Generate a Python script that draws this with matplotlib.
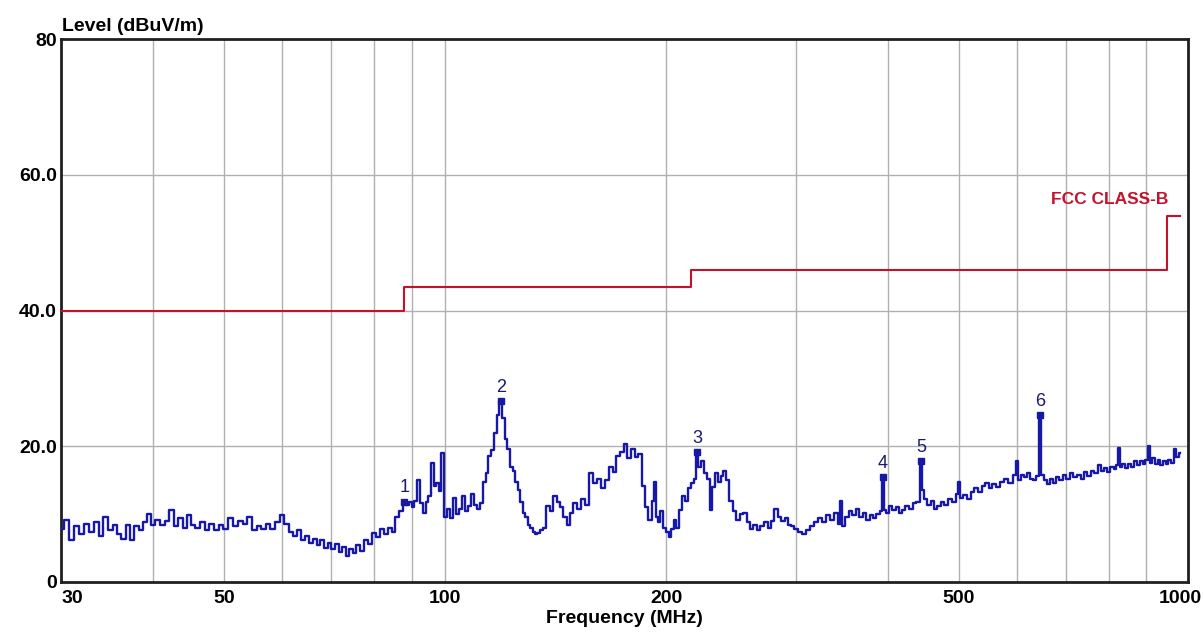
import numpy as np
import matplotlib
matplotlib.use('Agg')
import matplotlib.pyplot as plt
from matplotlib.ticker import FixedLocator, NullFormatter

plt.rcParams['font.family'] = ['Liberation Sans', 'DejaVu Sans']

freq_mhz = [
    30, 30.5, 31, 31.5, 32, 32.5, 33, 33.5, 34, 34.5,
    35, 35.5, 36, 36.5, 37, 37.5, 38, 38.5, 39, 39.5,
    40, 40.6, 41.2, 41.8, 42.4, 43, 43.6, 44.2, 44.8, 45.4,
    46, 46.7, 47.4, 48.1, 48.8, 49.5, 50.2, 51, 51.8, 52.6,
    53.4, 54.2, 55, 55.8, 56.6, 57.4, 58.2, 59, 60,
    60.8, 61.6, 62.4, 63.2, 64, 64.8, 65.6, 66.4, 67.2, 68,
    68.8, 69.6, 70.4, 71.2, 72, 72.8, 73.6, 74.4, 75.2, 76,
    77, 78, 79, 80, 81, 82, 83, 84, 85, 86, 87, 88,
    88.8, 89.6, 90.4, 91.2, 92, 92.8, 93.6, 94.4, 95.2, 96,
    96.8, 97.6, 98.4, 99.2, 100, 101, 102, 103, 104, 105,
    106, 107, 108, 109, 110, 111, 112, 113, 114, 115,
    116, 117, 118, 119, 120, 121, 122, 123, 124, 125,
    126, 127, 128, 129, 130, 131, 132, 133, 134, 135,
    136.5, 138, 139.5, 141, 142.5, 144, 145.5, 147, 148.5, 150,
    152, 154, 156, 158, 160, 162, 164, 166, 168, 170,
    172, 174, 176, 178, 180, 182, 184, 186, 188, 190,
    192, 193, 194, 195, 197, 199, 201, 202, 204, 205.5,
    207, 209, 211, 213, 215, 217, 219, 220,
    222, 224, 226, 228, 230, 232, 234, 236, 238, 240,
    242, 245, 248, 250, 253, 256, 258, 261, 264, 267,
    270, 273, 276, 279, 282, 285, 288, 291, 294, 297,
    300, 304, 308, 312, 316, 320, 324, 328, 332, 336,
    340, 344, 346, 348, 352, 356, 360, 364, 368, 372,
    376, 380, 384, 388, 392, 394, 396, 400, 404, 408,
    412, 416, 420, 425, 430, 435, 440, 444, 447, 450,
    455, 460, 465, 470, 475, 480, 486, 492, 498, 500,
    504, 510, 516, 522, 528, 534, 540, 546, 552, 558,
    565, 572, 580, 588, 596, 600, 604, 610, 616, 622,
    628, 634, 640, 645, 650, 656, 662, 668, 674, 680,
    688, 696, 704, 712, 720, 728, 736, 744, 752, 760,
    768, 776, 784, 792, 800, 808, 816, 822, 826, 830,
    838, 846, 854, 862, 870, 878, 886, 894, 900, 906,
    912, 920, 928, 936, 944, 952, 960, 968, 976, 984,
    990, 1000,
]
level_dbuv = [
    7.8, 9.2, 6.2, 8.2, 7.0, 8.6, 7.4, 8.8, 6.8, 9.6,
    7.6, 8.4, 7.0, 6.4, 8.4, 6.2, 8.2, 7.6, 8.8, 10.0,
    8.4, 9.2, 8.4, 9.0, 10.6, 8.2, 9.4, 8.0, 9.8, 8.4,
    8.0, 8.8, 7.6, 8.6, 7.6, 8.4, 7.8, 9.4, 8.2, 9.0,
    8.6, 9.6, 7.6, 8.2, 7.8, 8.6, 7.8, 8.8, 9.8,
    8.6, 7.4, 6.8, 7.6, 6.2, 6.8, 5.8, 6.4, 5.4, 6.2,
    5.0, 5.8, 4.8, 5.6, 4.4, 5.2, 3.8, 4.8, 4.2, 5.4,
    4.6, 6.2, 5.6, 7.2, 6.6, 7.8, 7.0, 8.0, 7.4, 9.6, 10.4, 11.8,
    11.4, 11.8, 11.0, 12.0, 15.0, 11.6, 10.2, 11.8, 12.6, 17.6,
    14.2, 14.6, 13.4, 19.0, 9.6, 10.8, 9.4, 12.4, 10.0, 10.8,
    12.6, 10.4, 11.2, 13.0, 11.4, 10.8, 11.6, 14.8, 16.0, 18.6,
    19.4, 22.0, 24.6, 26.6, 24.2, 21.0, 19.6, 17.0, 16.4, 14.8,
    13.6, 11.8, 10.2, 9.6, 8.4, 8.0, 7.4, 7.0, 7.2, 7.6,
    8.0, 11.2, 10.4, 12.6, 11.8, 11.0, 9.6, 8.4, 10.2, 11.6,
    10.8, 12.2, 11.4, 16.0, 14.6, 15.2, 13.8, 15.0, 17.0, 16.2,
    18.6, 19.2, 20.4, 18.2, 19.6, 18.4, 18.8, 14.2, 11.0, 9.2,
    12.0, 14.8, 9.6, 8.8, 10.4, 8.0, 7.4, 6.6, 7.8, 9.2,
    8.0, 10.6, 12.6, 12.0, 13.8, 14.6, 15.2, 19.1,
    17.0, 17.8, 16.0, 15.2, 10.6, 14.0, 16.0, 14.8, 15.6, 16.4,
    15.0, 12.0, 10.4, 9.2, 10.0, 10.2, 8.8, 7.8, 8.4, 7.6,
    8.2, 8.8, 8.0, 9.0, 10.8, 9.6, 9.0, 9.4, 8.4, 8.2,
    7.8, 7.4, 7.0, 7.6, 8.2, 8.8, 9.4, 8.8, 9.8, 9.2,
    10.2, 8.6, 12.0, 8.2, 9.6, 10.4, 9.8, 10.8, 9.6, 10.2,
    9.2, 9.8, 9.4, 10.0, 10.4, 15.4, 10.6, 10.2, 11.2, 10.6,
    11.0, 10.2, 10.6, 11.2, 10.8, 11.6, 11.8, 17.8, 13.6, 12.2,
    11.4, 12.0, 10.8, 11.2, 11.8, 11.4, 12.2, 11.8, 13.0, 14.8,
    12.4, 12.8, 12.2, 13.2, 13.8, 13.2, 14.2, 14.6, 13.8, 14.4,
    14.0, 14.8, 15.2, 14.6, 15.8, 17.8, 15.0, 15.8, 15.4, 16.0,
    15.2, 15.0, 15.6, 24.6, 15.8, 15.0, 14.4, 15.2, 14.6, 15.4,
    15.0, 15.8, 15.2, 16.0, 15.4, 15.8, 15.2, 16.2, 15.6, 16.4,
    16.0, 17.2, 16.4, 16.8, 16.2, 17.0, 16.6, 17.2, 19.8, 17.0,
    17.4, 16.8, 17.4, 17.0, 17.8, 17.2, 17.8, 17.4, 18.0, 20.0,
    17.6, 18.2, 17.4, 18.0, 17.2, 17.8, 17.4, 18.0, 17.6, 19.6,
    18.4, 19.0,
]

# FCC class B limit (3 m)
limit_freq = [30, 88, 88, 216, 216, 960, 960, 1000]
limit_level = [40, 40, 43.5, 43.5, 46, 46, 54, 54]

# marked peaks
peak_freq = [88, 119, 220, 394, 444, 645]
peak_level = [11.8, 26.6, 19.1, 15.4, 17.8, 24.6]
peak_labels = ['1', '2', '3', '4', '5', '6']

trace_color = '#1818a8'
limit_color = '#c4122c'

fig = plt.figure(figsize=(12.04, 6.42), dpi=100)
ax = fig.add_axes([0.0507, 0.0935, 0.9360, 0.8455])

ax.set_xscale('log')
ax.set_xlim(30, 1025)
ax.set_ylim(0, 80)

ax.plot(limit_freq, limit_level, color=limit_color, lw=1.5, zorder=3)
ax.plot(freq_mhz, level_dbuv, color=trace_color, lw=1.7, drawstyle='steps-mid', zorder=4)

ax.plot(peak_freq, peak_level, 's', color=trace_color, ms=4, zorder=5)
for f, l, t in zip(peak_freq, peak_level, peak_labels):
    ax.annotate(t, (f, l), xytext=(0, 4), textcoords='offset points',
                ha='center', va='bottom', fontsize=13, color='#1a1a70', zorder=6)

ax.text(965, 56.3, 'FCC CLASS-B', color=limit_color, fontsize=12.5,
        fontweight='bold', ha='right', va='center')

# grid
grid_x = [40, 50, 60, 70, 80, 90, 100, 200, 300, 400, 500, 600, 700, 800, 900]
ax.xaxis.set_major_locator(FixedLocator([30, 50, 100, 200, 500, 1000]))
ax.xaxis.set_minor_locator(FixedLocator(grid_x))
ax.xaxis.set_minor_formatter(NullFormatter())
ax.set_xticklabels(['30', '50', '100', '200', '500', '1000'])
ax.set_yticks([0, 20, 40, 60, 80])
ax.set_yticklabels(['0', '20.0', '40.0', '60.0', '80'])
for gx in grid_x:
    ax.axvline(gx, color='#b0b0b0', lw=1.0, zorder=1)
for gy in [20, 40, 60]:
    ax.axhline(gy, color='#b0b0b0', lw=1.0, zorder=1)

ax.tick_params(which='both', length=0, labelsize=14, pad=6)
for lab in ax.get_xticklabels() + ax.get_yticklabels():
    lab.set_fontweight('bold')
ax.get_xticklabels()[0].set_horizontalalignment('left')
ax.tick_params(axis='y', pad=3)

for side in ['left', 'bottom', 'top', 'right']:
    ax.spines[side].set_linewidth(2.0)
    ax.spines[side].set_color('#202020')

ax.set_xlabel('Frequency (MHz)', fontsize=14, fontweight='bold', labelpad=2)
fig.text(0.0515, 0.945, 'Level (dBuV/m)', fontsize=14, fontweight='bold',
         ha='left', va='bottom')

fig.savefig('out.png', dpi=100)
